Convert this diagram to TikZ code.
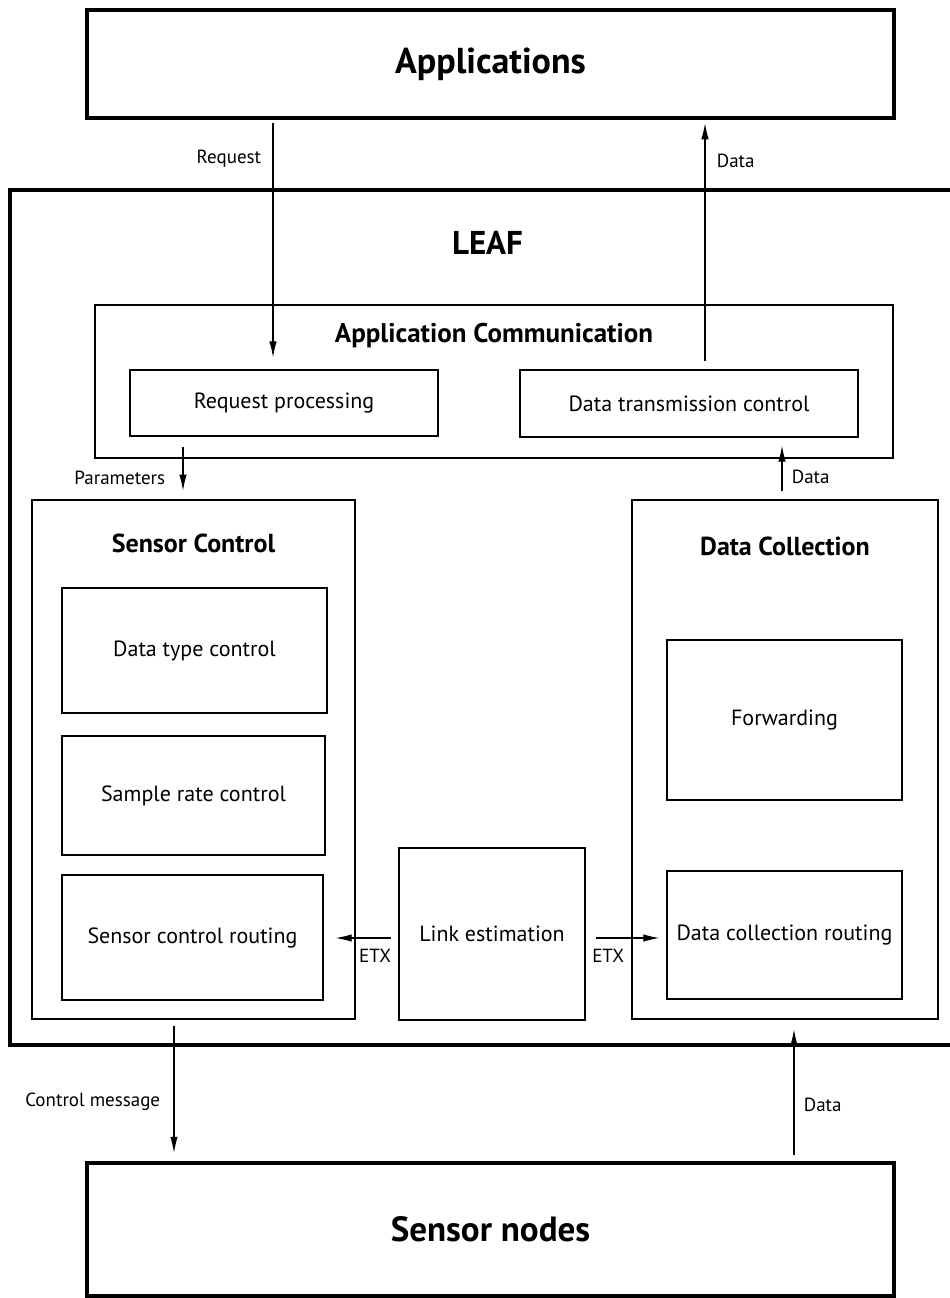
\documentclass[tikz,border=0pt]{standalone}
\usepackage{fontspec}
\setmainfont{PT Sans}
\usetikzlibrary{arrows.meta,positioning,calc}

\begin{document}
\begin{tikzpicture}[
    x=1pt, y=-1pt,
    outer/.style={draw, line width=4.5pt, inner sep=0pt},
    frame/.style={draw, line width=2.8pt, inner sep=0pt},
    inner/.style={draw, line width=1.3pt, inner sep=0pt, font=\fontsize{22}{26}\selectfont},
    title/.style={font=\bfseries\fontsize{26}{31}\selectfont},
    lbl/.style={font=\fontsize{19}{23}\selectfont},
    arr/.style={-{Latex[length=16pt,width=7.5pt]}, line width=1.1pt}
]
    \useasboundingbox (0,0) rectangle (950,1298);

    % outer blocks
    \node[outer, minimum width=807pt, minimum height=108pt, font=\bfseries\fontsize{36}{42}\selectfont] (apps) at (490.5,64) {Applications};
    \node[outer, minimum width=955pt, minimum height=855pt] (leaf) at (487.5,617.5) {};
    \node[title, font=\bfseries\fontsize{33}{40}\selectfont, below=40pt of leaf.north] (leaftitle) {LEAF};
    \node[outer, minimum width=807pt, minimum height=133pt, font=\bfseries\fontsize{35}{42}\selectfont] (nodes) at (490.5,1229.5) {Sensor nodes};

    % application communication
    \node[frame, minimum width=798pt, minimum height=153pt] (appcomm) at (494,381.5) {};
    \node[title, font=\bfseries\fontsize{27}{32}\selectfont, below=16pt of appcomm.north] (appcommtitle) {Application Communication};
    \node[inner, minimum width=308pt, minimum height=66pt] (reqproc) at (284,403) {Request processing};
    \node[inner, minimum width=338pt, minimum height=67pt] (datatx) at (689,403.5) {Data transmission control};

    % sensor control
    \node[frame, minimum width=323pt, minimum height=519pt] (sensctl) at (193.5,759.5) {};
    \node[title, below=32pt of sensctl.north] (sensctltitle) {Sensor Control};
    \node[inner, minimum width=265pt, minimum height=125pt] (datatype) at (194.5,650.5) {Data type control};
    \node[inner, minimum width=263pt, minimum height=119pt] (samplerate) at (193.5,795.5) {Sample rate control};
    \node[inner, minimum width=261pt, minimum height=125pt] (scrouting) at (192.5,937.5) {Sensor control routing};

    % data collection
    \node[frame, minimum width=306pt, minimum height=519pt] (datacoll) at (785,759.5) {};
    \node[title, below=35pt of datacoll.north] (datacolltitle) {Data Collection};
    \node[inner, minimum width=235pt, minimum height=160pt] (forward) at (784.5,720) {Forwarding};
    \node[inner, minimum width=235pt, minimum height=128pt] (dcrouting) at (784.5,935) {Data collection routing};

    % link estimation
    \node[frame, minimum width=186pt, minimum height=172pt, font=\fontsize{22}{26}\selectfont] (linkest) at (492,934) {Link estimation};

    % requests and data
    \draw[arr] ([xshift=-217.5pt, yshift=-3pt]apps.south) -- ([xshift=-11pt, yshift=12pt]reqproc.north)
        node[lbl, pos=0.15, left=8pt] {Request};
    \draw[arr] ([xshift=16pt, yshift=8pt]datatx.north) -- ([xshift=214.5pt, yshift=-3pt]apps.south)
        node[lbl, pos=0.84, right=8pt] {Data};
    \draw[arr] ([xshift=-101pt, yshift=-10pt]reqproc.south) -- ([xshift=-10.5pt, yshift=8pt]sensctl.north)
        node[lbl, pos=0.7, left=14pt] {Parameters};
    \draw[arr] ([xshift=-3pt, yshift=8pt]datacoll.north) -- ([xshift=93pt, yshift=-8pt]datatx.south)
        node[lbl, pos=0.3, right=6pt] {Data};

    % link metric
    \draw[arr] ([xshift=-7pt, yshift=-4pt]linkest.west) -- ([xshift=12pt, yshift=-0.5pt]scrouting.east)
        node[lbl, pos=0.05, below left=7pt and -7pt] {ETX};
    \draw[arr] ([xshift=10pt, yshift=-4pt]linkest.east) -- ([xshift=-7pt, yshift=-3pt]dcrouting.west)
        node[lbl, pos=0.0, below right=7pt and -8pt] {ETX};

    % sensor nodes
    \draw[arr] ([xshift=-19.5pt, yshift=-6pt]sensctl.south) -- ([xshift=-316.5pt, yshift=8pt]nodes.north)
        node[lbl, pos=0.6, left=10pt] {Control message};
    \draw[arr] ([xshift=303.5pt, yshift=6pt]nodes.north) -- ([xshift=9pt, yshift=-9pt]datacoll.south)
        node[lbl, pos=0.4, right=6pt] {Data};
\end{tikzpicture}
\end{document}
